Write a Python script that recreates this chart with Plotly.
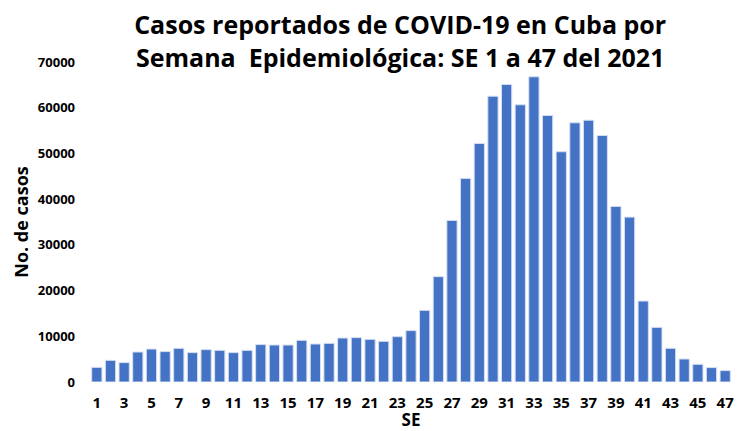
import plotly.graph_objects as go

semanas = list(range(1, 48))
casos = [3210, 4740, 4240, 6560, 7210, 6650, 7370, 6430, 7080, 6930,
         6430, 6930, 8180, 8090, 8090, 9120, 8310, 8460, 9620, 9710,
         9330, 8900, 9920, 11240, 15670, 23040, 35350, 44530, 52180, 62520,
         65080, 60640, 66760, 58300, 50370, 56700, 57270, 53930, 38410, 36070,
         17710, 11960, 7370, 5030, 3870, 3150, 2490]
x_ticks = list(range(1, 48, 2))
y_ticks = list(range(0, 70001, 10000))

titulo = "Casos reportados de COVID-19 en Cuba por<br>Semana  Epidemiológica: SE 1 a 47 del 2021"

FONT = "Open Sans"

fig = go.Figure(go.Bar(
    x=semanas, y=casos,
    marker=dict(color="#4472C4", line=dict(color="#d4dff2", width=1)),
))

fig.update_layout(
    width=737, height=431,
    paper_bgcolor="white", plot_bgcolor="white",
    margin=dict(l=90, r=3, t=62, b=48),
    bargap=0.25,
    showlegend=False,
    font=dict(family=FONT, color="black"),
    title=dict(text=titulo, x=0.543, xanchor="center", y=0.92, yanchor="middle",
               font=dict(family=FONT, size=25, weight="bold", color="black")),
)
fig.update_xaxes(
    range=[0.5, 47.5], tickvals=x_ticks, ticktext=[str(v) for v in x_ticks],
    showgrid=False, zeroline=False, showline=False, ticks="",
    tickfont=dict(family=FONT, size=15, weight="bold", color="black"),
    ticklabelstandoff=10,
    title=dict(text="SE", standoff=4, font=dict(family=FONT, size=17, weight="bold", color="black")),
)
fig.update_yaxes(
    range=[0, 70000], tickvals=y_ticks, ticktext=[str(v) for v in y_ticks],
    showgrid=False, zeroline=False, showline=False, ticks="",
    tickfont=dict(family=FONT, size=13, weight="bold", color="black"),
    ticklabelstandoff=14,
    title=dict(text="No. de casos", standoff=4, font=dict(family=FONT, size=18, weight="bold", color="black")),
)

fig.write_html("out.html", config={"displayModeBar": False},
               post_script="document.body.style.margin='0';")
